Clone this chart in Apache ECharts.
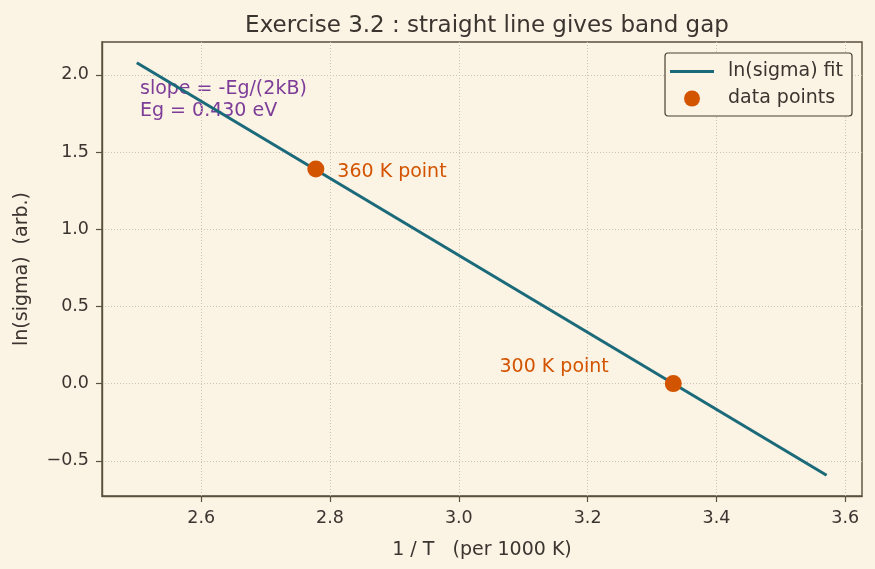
<!DOCTYPE html>
<html>
<head>
<meta charset="utf-8">
<script src="https://cdn.jsdelivr.net/npm/echarts@6/dist/echarts.min.js"></script>
<style>
  html, body { margin: 0; padding: 0; background: #fbf3e4; }
  #chart { width: 875px; height: 569px; }
</style>
</head>
<body>
<div id="chart"></div>
<script>
// fitted line ends (1/T in per 1000 K, ln sigma)
var fitLine = [[2.5, 2.079], [3.571, -0.594]];
// the two measured points
var pointNames = ['360 K point', '300 K point'];
var pointX = [2.778, 3.333];
var pointY = [1.39, 0.0];
// tick labels
var xTicks = [2.6, 2.8, 3.0, 3.2, 3.4, 3.6];
var yTicks = [-0.5, 0.0, 0.5, 1.0, 1.5, 2.0];

var axisColor = '#5b4f3d';
var textColor = '#3b3530';
var gridColor = '#cdc3b1';
var font = 'DejaVu Sans';

var chart = echarts.init(document.getElementById('chart'));

var pts = pointX.map(function (x, i) {
  var lab = i === 0
    ? { show: true, position: 'right', offset: [8, 3] }
    : { show: true, position: 'left', offset: [-51, -17] };
  return { value: [x, pointY[i]], name: pointNames[i], label: lab };
});

var option = {
  backgroundColor: '#fbf3e4',
  textStyle: { fontFamily: font },
  title: {
    text: 'Exercise 3.2 : straight line gives band gap',
    left: 482,
    textAlign: 'center',
    top: 10,
    textStyle: { fontFamily: font, fontSize: 23, fontWeight: 'normal', color: textColor }
  },
  grid: { left: 102, right: 13, top: 42, bottom: 73, outerBoundsMode: 'none', containLabel: false },
  legend: {
    right: 23,
    top: 53,
    orient: 'vertical',
    itemWidth: 44,
    itemHeight: 16,
    itemGap: 6,
    padding: [8, 9, 7, 5],
    borderColor: '#4a4030',
    borderWidth: 1.2,
    borderRadius: 3,
    backgroundColor: '#fbf3e4',
    textStyle: { fontFamily: font, fontSize: 19, color: textColor, lineHeight: 21, padding: [0, 0, 0, 9] },
    data: [
      { name: 'ln(sigma) fit', icon: 'path://M0,0 L44,0 L44,3 L0,3 Z' },
      { name: 'data points', icon: 'circle' }
    ]
  },
  graphic: [{
    type: 'text',
    left: 140,
    top: 78,
    style: {
      text: 'slope = -Eg/(2kB)\nEg = 0.430 eV',
      fill: '#7d3c98',
      font: '19px DejaVu Sans',
      lineHeight: 22
    }
  }],
  xAxis: {
    type: 'value',
    min: 2.446,
    max: 3.626,
    splitNumber: 6,
    name: '1 / T   (per 1000 K)',
    nameLocation: 'middle',
    nameGap: 45,
    nameTextStyle: { fontFamily: font, fontSize: 19, color: textColor },
    axisLine: { show: true, onZero: false, lineStyle: { color: axisColor, width: 1.4 } },
    axisTick: { show: true, length: 6, customValues: xTicks, lineStyle: { color: axisColor, width: 1.2 } },
    axisLabel: {
      fontFamily: font, fontSize: 17.5, color: textColor, margin: 13,
      customValues: xTicks,
      formatter: function (v) { return v.toFixed(1); }
    },
    splitLine: { show: true, lineStyle: { color: gridColor, type: [1, 2] } }
  },
  yAxis: {
    type: 'value',
    min: -0.728,
    max: 2.213,
    splitNumber: 6,
    name: 'ln(sigma)  (arb.)',
    nameLocation: 'middle',
    nameGap: 70,
    nameTextStyle: { fontFamily: font, fontSize: 19, color: textColor },
    axisLine: { show: true, onZero: false, lineStyle: { color: axisColor, width: 1.4 } },
    axisTick: { show: true, length: 6, customValues: yTicks, lineStyle: { color: axisColor, width: 1.2 } },
    axisLabel: {
      fontFamily: font, fontSize: 17.5, color: textColor, margin: 13,
      customValues: yTicks,
      formatter: function (v) { return v.toFixed(1).replace('-', '\u2212'); }
    },
    splitLine: { show: true, lineStyle: { color: gridColor, type: [1, 2] } }
  },
  series: [
    {
      name: 'ln(sigma) fit',
      type: 'line',
      data: fitLine,
      showSymbol: false,
      symbol: 'none',
      lineStyle: { color: '#1b6a7a', width: 3 },
      itemStyle: { color: '#1b6a7a' },
      z: 2
    },
    {
      name: 'data points',
      type: 'scatter',
      data: pts,
      symbolSize: 17,
      itemStyle: { color: '#d35400', opacity: 1 },
      label: {
        formatter: '{b}',
        fontFamily: font,
        fontSize: 19,
        color: '#d35400'
      },
      z: 3
    }
  ]
};

// frame on top and right as well
option.graphic.push({
  type: 'rect',
  shape: { x: 102, y: 42, width: 760, height: 454 },
  style: { fill: 'none', stroke: axisColor, lineWidth: 1.4 },
  silent: true,
  z: -1
});

chart.setOption(option);
</script>
</body>
</html>
